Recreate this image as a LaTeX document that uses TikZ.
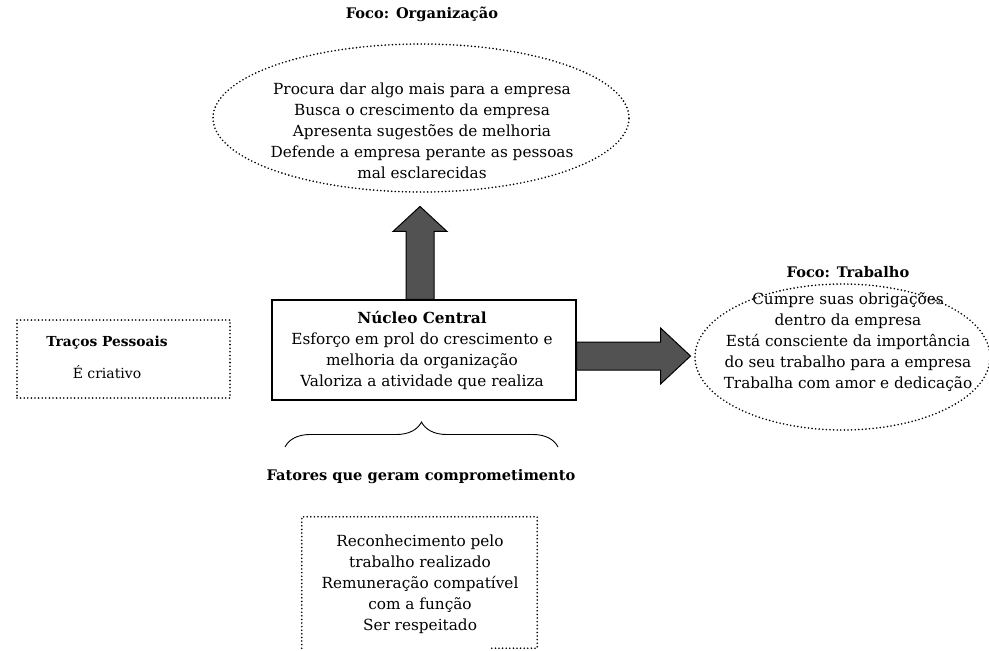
\documentclass[tikz,border=0pt]{standalone}
\usepackage{fontspec}
\setmainfont{DejaVu Serif}
\usetikzlibrary{shapes.geometric,decorations.pathreplacing,calc}

\begin{document}
\begin{tikzpicture}[x=1pt,y=-1pt,
  every node/.style={font=\fontsize{15.3}{21}\selectfont, align=center, inner sep=0pt},
  heading/.style={font=\fontsize{14.6}{21}\selectfont\bfseries},
  small/.style={font=\fontsize{14}{21}\selectfont},
  smallhead/.style={font=\fontsize{13.8}{21}\selectfont\bfseries},
  dotline/.style={line width=1.8pt, dash pattern=on 0pt off 3.6pt, line cap=round},
  blockarrow/.style={draw=black, line width=1pt, fill=black!68},
  solidbox/.style={draw=black, line width=1.1pt, rectangle},
]
\useasboundingbox (0,0) rectangle (989,651);

% top focus: organisation
\node[heading] (orgtitle) at (422,14) {Foco: Organização};
\node[ellipse, dotline, draw, minimum width=416, minimum height=148] (orgell) at (421,118) {};
\node (orgtext) at (422,131) {Procura dar algo mais para a empresa\\
  Busca o crescimento da empresa\\
  Apresenta sugestões de melhoria\\
  Defende a empresa perante as pessoas\\
  mal esclarecidas};

% central core
\node[solidbox, minimum width=304, minimum height=100] (core) at (424,350) {};
\node (coretext) at (422,350) {\textbf{Núcleo Central}\\
  Esforço em prol do crescimento e\\
  melhoria da organização\\
  Valoriza a atividade que realiza};

% right focus: work
\node[heading] (worktitle) at (848,272) {Foco: Trabalho};
\node[ellipse, dotline, draw, minimum width=295, minimum height=146] (workell) at (842.5,357) {};
\node (worktext) at (848,342) {Cumpre suas obrigações\\
  dentro da empresa\\
  Está consciente da importância\\
  do seu trabalho para a empresa\\
  Trabalha com amor e dedicação};

% personal traits
\node[draw, dotline, rectangle, minimum width=213, minimum height=78] (traits) at (123.5,359) {};
\node[smallhead] (traitstitle) at (107,343) {Traços Pessoais};
\node[small] (traitstext) at (107,372) {É criativo};

% block arrows from the core
\coordinate (ua) at ($(core.north)+(-4,0)$);
\draw[blockarrow] ($(ua)+(-14,0)$) -- ($(ua)+(-14,-68)$) -- ($(ua)+(-27,-68)$)
  -- ($(ua)+(0,-93)$) -- ($(ua)+(27,-68)$) -- ($(ua)+(14,-68)$) -- ($(ua)+(14,0)$) -- cycle;
\coordinate (ra) at ($(core.east)+(0,6)$);
\draw[blockarrow] ($(ra)+(0,-14)$) -- ($(ra)+(84,-14)$) -- ($(ra)+(84,-28)$)
  -- ($(ra)+(114,0)$) -- ($(ra)+(84,28)$) -- ($(ra)+(84,14)$) -- ($(ra)+(0,14)$) -- cycle;

% brace under the core
\coordinate (bl) at (285,447);
\coordinate (br) at (558,447);
\draw[line width=0.9pt, decorate, decoration={brace, amplitude=25pt}] (bl) -- (br);

% commitment factors
\node[heading] (factitle) at (421,477) {Fatores que geram comprometimento};
\node[minimum width=235, minimum height=131] (factors) at (419.5,582.5) {};
\draw[dotline] (factors.south west) -- (factors.north west) -- (factors.north east)
  -- (factors.south east) -- ++(-47,0);
\node (factext) at (420,584) {Reconhecimento pelo\\
  trabalho realizado\\
  Remuneração compatível\\
  com a função\\
  Ser respeitado};
\end{tikzpicture}
\end{document}
